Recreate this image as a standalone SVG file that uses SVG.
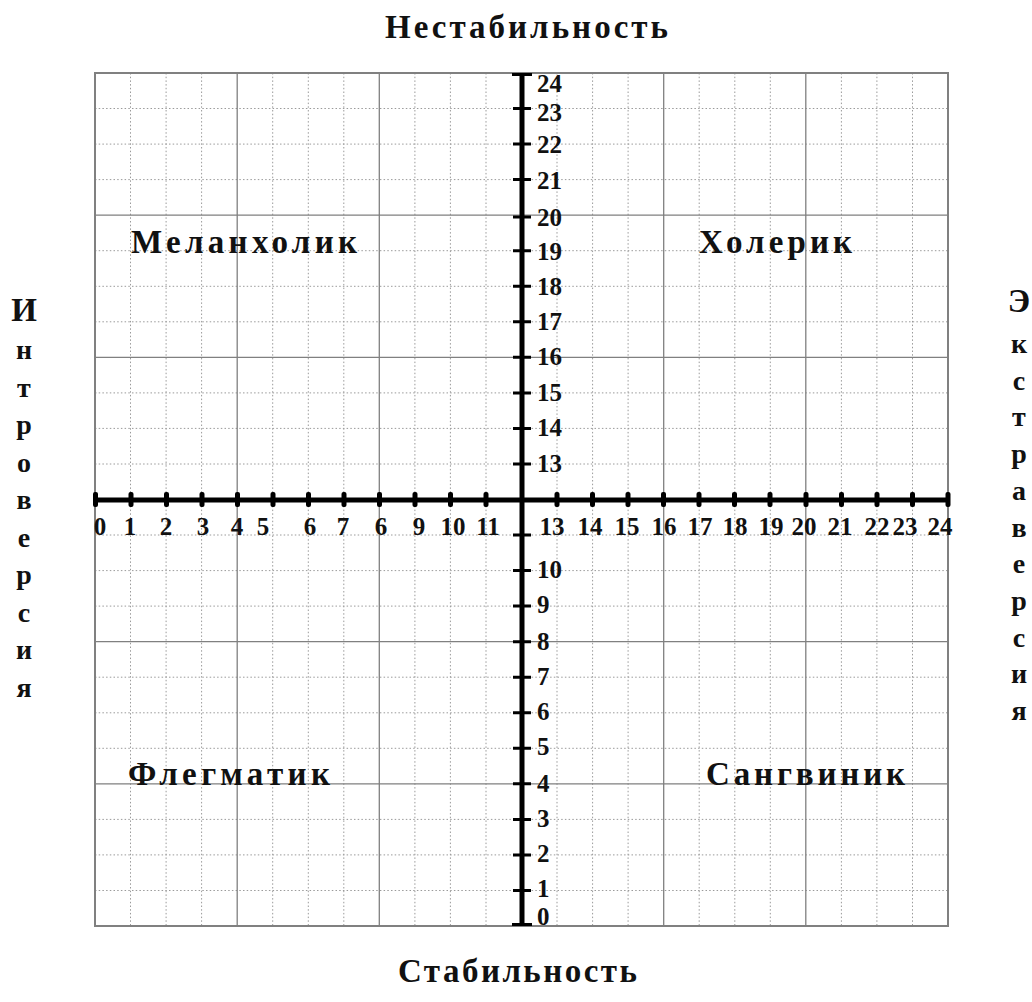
<svg xmlns="http://www.w3.org/2000/svg" width="1032" height="1002" viewBox="0 0 1032 1002">
<style>
.minor{fill:none;stroke:#9a9a9a;stroke-width:1;stroke-dasharray:1.5 2.2}
.major{fill:none;stroke:#808080;stroke-width:1.3}
.axis{fill:none;stroke:#000;stroke-width:5}
.tick{fill:none;stroke:#000;stroke-width:3}
.htick{fill:#000}
text{font-family:"Liberation Serif","Times New Roman",serif;font-weight:bold;fill:#111}
.num{font-size:25px}
.numh{font-size:25px;text-anchor:middle}
.word{font-size:33px}
.vert{font-size:28px;text-anchor:middle}
</style>
<rect width="1032" height="1002" fill="#fff"/>
<g id="grid">
<path class="minor" d="M130.5 73V926M166.1 73V926M201.6 73V926M272.7 73V926M308.3 73V926M343.8 73V926M414.9 73V926M450.4 73V926M486 73V926M557 73V926M592.6 73V926M628.1 73V926M699.2 73V926M734.8 73V926M770.3 73V926M841.4 73V926M876.9 73V926M912.5 73V926"/>
<path class="minor" d="M95 108.5H948M95 144.1H948M95 179.6H948M95 250.7H948M95 286.3H948M95 321.8H948M95 392.9H948M95 428.4H948M95 464H948M95 535H948M95 570.6H948M95 606.1H948M95 677.2H948M95 712.8H948M95 748.3H948M95 819.4H948M95 854.9H948M95 890.5H948"/>
<path class="major" d="M237.2 73V926M379.3 73V926M663.7 73V926M805.8 73V926M95 215.2H948M95 357.3H948M95 641.7H948M95 783.8H948"/>
<rect x="95" y="73" width="853" height="853" fill="none" stroke="#808080" stroke-width="2"/>
</g>
<g id="connectors">
<line class="axis" x1="95" y1="500" x2="950" y2="500"/>
<line class="axis" x1="522" y1="73" x2="522" y2="926"/>
<g class="htick">
<rect x="93" y="492" width="5" height="15" rx="2"/>
<rect x="128.5" y="492" width="5" height="15" rx="2"/>
<rect x="164" y="492" width="5" height="15" rx="2"/>
<rect x="199.5" y="492" width="5" height="15" rx="2"/>
<rect x="235" y="492" width="5" height="15" rx="2"/>
<rect x="270.5" y="492" width="5" height="15" rx="2"/>
<rect x="306" y="492" width="5" height="15" rx="2"/>
<rect x="341.5" y="492" width="5" height="15" rx="2"/>
<rect x="377" y="492" width="5" height="15" rx="2"/>
<rect x="412.5" y="492" width="5" height="15" rx="2"/>
<rect x="448" y="492" width="5" height="15" rx="2"/>
<rect x="483.5" y="492" width="5" height="15" rx="2"/>
<rect x="554.5" y="492" width="5" height="15" rx="2"/>
<rect x="590" y="492" width="5" height="15" rx="2"/>
<rect x="625.5" y="492" width="5" height="15" rx="2"/>
<rect x="661" y="492" width="5" height="15" rx="2"/>
<rect x="696.5" y="492" width="5" height="15" rx="2"/>
<rect x="732" y="492" width="5" height="15" rx="2"/>
<rect x="767.5" y="492" width="5" height="15" rx="2"/>
<rect x="803.5" y="492" width="5" height="15" rx="2"/>
<rect x="839" y="492" width="5" height="15" rx="2"/>
<rect x="874.5" y="492" width="5" height="15" rx="2"/>
<rect x="910" y="492" width="5" height="15" rx="2"/>
<rect x="945.5" y="492" width="5" height="15" rx="2"/>
</g>
<path class="tick" d="M512 74.5H532M513 108.5H531M513 144.1H531M513 179.6H531M513 217H531M513 250.7H531M513 286.3H531M513 321.8H531M513 357.3H531M513 392.9H531M513 428.4H531M513 464H531M513 535H531M513 570.6H531M513 606.1H531M513 641.7H531M513 677.2H531M513 712.8H531M513 748.3H531M513 783.8H531M513 819.4H531M513 854.9H531M513 890.5H531M512 924.5H532"/>
</g>
<g id="vlabels" class="num">
<text x="537" y="92">24</text>
<text x="537" y="121">23</text>
<text x="537" y="153">22</text>
<text x="537" y="189">21</text>
<text x="537" y="226">20</text>
<text x="537" y="260">19</text>
<text x="537" y="295">18</text>
<text x="537" y="330">17</text>
<text x="537" y="365">16</text>
<text x="537" y="401">15</text>
<text x="537" y="436">14</text>
<text x="537" y="472">13</text>
<text x="537" y="578">10</text>
<text x="537" y="613">9</text>
<text x="537" y="650">8</text>
<text x="537" y="685">7</text>
<text x="537" y="720">6</text>
<text x="537" y="755">5</text>
<text x="537" y="792">4</text>
<text x="537" y="827">3</text>
<text x="537" y="862">2</text>
<text x="537" y="897">1</text>
<text x="537" y="925">0</text>
</g>
<g id="hlabels" class="numh">
<text x="100" y="535">0</text>
<text x="130" y="535">1</text>
<text x="166" y="535">2</text>
<text x="203" y="535">3</text>
<text x="237" y="535">4</text>
<text x="263" y="535">5</text>
<text x="310" y="535">6</text>
<text x="343" y="535">7</text>
<text x="381" y="535">6</text>
<text x="419" y="535">9</text>
<text x="453" y="535">10</text>
<text x="488" y="535">11</text>
<text x="552" y="535">13</text>
<text x="590" y="535">14</text>
<text x="627" y="535">15</text>
<text x="664" y="535">16</text>
<text y="535"><tspan x="700">17</tspan><tspan x="735">18</tspan></text>
<text x="771" y="535">19</text>
<text x="804" y="535">20</text>
<text x="840" y="535">21</text>
<text x="877" y="535">22</text>
<text y="535"><tspan x="905">23</tspan><tspan x="940">24</tspan></text>
</g>
<g id="title-top"><text class="word" x="385" y="38" textLength="283" lengthAdjust="spacing">Нестабильность</text></g>
<g id="title-bottom"><text class="word" x="398" y="982" textLength="239" lengthAdjust="spacing">Стабильность</text></g>
<g id="melancholic"><text class="word" x="131" y="253" textLength="226" lengthAdjust="spacing">Меланхолик</text></g>
<g id="choleric"><text class="word" x="699" y="253" textLength="153" lengthAdjust="spacing">Холерик</text></g>
<g id="phlegmatic"><text class="word" x="128" y="785" textLength="202" lengthAdjust="spacing">Флегматик</text></g>
<g id="sanguine"><text class="word" x="706" y="785" textLength="199" lengthAdjust="spacing">Сангвиник</text></g>
<g id="introversion" class="vert">
<text x="24" y="321" font-size="33">И</text>
<text x="24" y="359">н</text>
<text x="24" y="396.5">т</text>
<text x="24" y="434">р</text>
<text x="24" y="471.5">о</text>
<text x="24" y="509">в</text>
<text x="24" y="546.5">е</text>
<text x="24" y="584">р</text>
<text x="24" y="621.5">с</text>
<text x="24" y="659">и</text>
<text x="24" y="696.5">я</text>
</g>
<g id="extraversion" class="vert">
<text x="1019" y="312" font-size="33">Э</text>
<text x="1019" y="353">к</text>
<text x="1019" y="389.7">с</text>
<text x="1019" y="426.4">т</text>
<text x="1019" y="463.1">р</text>
<text x="1019" y="499.8">а</text>
<text x="1019" y="536.5">в</text>
<text x="1019" y="573.2">е</text>
<text x="1019" y="609.9">р</text>
<text x="1019" y="646.6">с</text>
<text x="1019" y="683.3">и</text>
<text x="1019" y="720">я</text>
</g>
</svg>
